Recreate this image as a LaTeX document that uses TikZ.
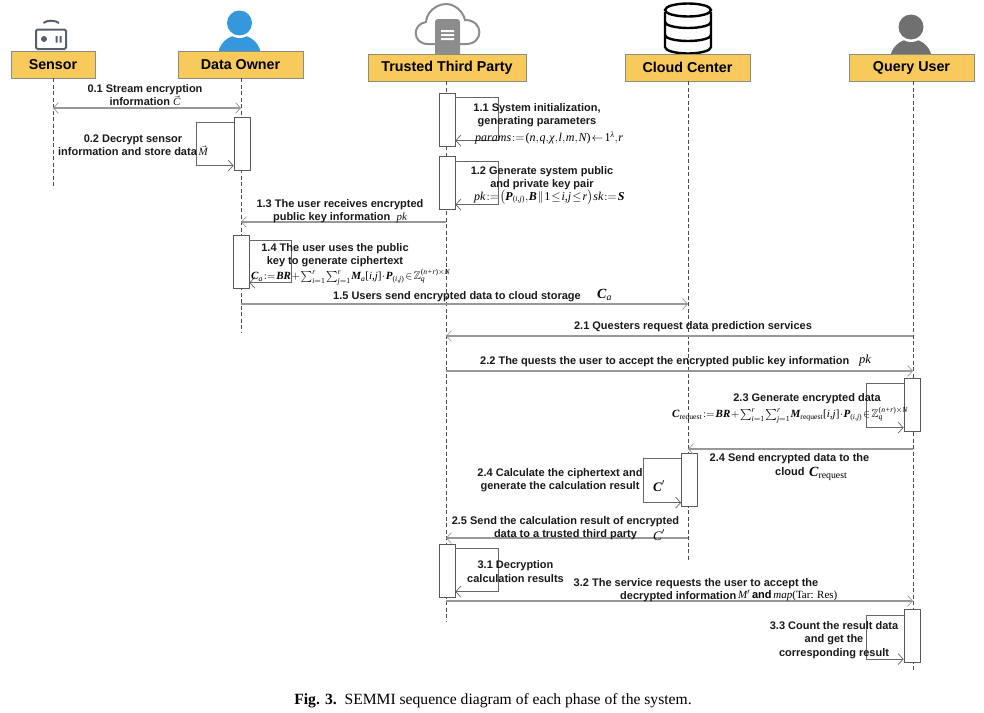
\documentclass[tikz,border=0pt]{standalone}
\usepackage{amsmath,amssymb}
\usepackage{fontspec}
\setmainfont{Liberation Sans}
\newfontfamily\capfont{Liberation Serif}
\usetikzlibrary{arrows.meta}
\definecolor{headfill}{HTML}{F7CA5B}
\definecolor{headline}{HTML}{8E8E80}
\definecolor{msgline}{HTML}{989898}
\definecolor{ownerblue}{HTML}{3598DC}
\definecolor{usergray}{HTML}{707070}
\definecolor{sensorgray}{HTML}{56606E}
\definecolor{cloudgray}{HTML}{8C8C8C}
\newcommand{\sm}{\fontsize{11}{13.4}\selectfont\bfseries}
\newcommand{\ti}[1]{\text{\capfont\mdseries\itshape #1}}
\newcommand{\tb}[1]{\text{\capfont\bfseries\itshape #1}}
\newcommand{\tr}[1]{\text{\capfont\mdseries\upshape #1}}
\newcommand{\tightm}{\thickmuskip=1.5mu\medmuskip=1mu\thinmuskip=1mu}
\begin{document}
\begin{tikzpicture}[x=1pt,y=1pt,
  head/.style={draw=headline,fill=headfill,line width=0.8pt,minimum height=27pt,inner sep=0pt,font=\fontsize{14.3}{16}\selectfont\bfseries},
  lifeline/.style={draw=black!70,line width=0.7pt,dash pattern=on 4pt off 2.5pt},
  actbox/.style={draw=black!65,fill=white,line width=0.8pt,minimum width=16pt,minimum height=53pt,inner sep=0pt},
  msg/.style={draw=msgline,line width=1.1pt,-{Straight Barb[length=5pt,width=11pt,line width=0.7pt]}},
  msgboth/.style={draw=msgline,line width=1.1pt,{Straight Barb[length=5pt,width=11pt,line width=0.7pt]}-{Straight Barb[length=5pt,width=11pt,line width=0.7pt]}},
  selfmsg/.style={draw=black!60,line width=0.8pt,-{Straight Barb[length=5pt,width=11pt,line width=0.7pt]}},
  lbl/.style={align=center,inner sep=0pt,font=\sm,text=black!90}]
\useasboundingbox (0,0) rectangle (984,-712);

% icons
\draw[sensorgray,line width=2pt,rounded corners=1.5pt] (36,-29.5) rectangle (66,-49);
\fill[sensorgray] (44,-39) circle (3);
\fill[sensorgray] (55.5,-36) rectangle (57.5,-42.5) (59.5,-36) rectangle (61.5,-42.5);
\draw[sensorgray,line width=2pt] (43.5,-23) .. controls (47,-20) and (55,-20) .. (59,-23);

\begin{scope}
\clip (200,-51) rectangle (280,0);
\fill[ownerblue] (239.5,-56) ellipse (21.5 and 21);
\end{scope}
\fill[white] (239.5,-23) circle (15);
\fill[ownerblue] (239.5,-23) circle (12.5);

\begin{scope}
\clip (870,-54) rectangle (950,0);
\fill[usergray] (911,-60) ellipse (21 and 21);
\end{scope}
\fill[white] (911,-27) circle (15);
\fill[usergray] (911,-27) circle (12.5);

\draw[black,line width=2.4pt] (665,-12) -- (665,-47) arc[start angle=180,end angle=360,x radius=23,y radius=6.5] -- (711,-12);
\draw[black,line width=2.4pt] (688,-10) ellipse (23 and 6.5);
\draw[black,line width=2.4pt] (665,-22) arc[start angle=180,end angle=360,x radius=23,y radius=6];
\draw[black,line width=2.4pt] (665,-35) arc[start angle=180,end angle=360,x radius=23,y radius=6];

\draw[cloudgray,line width=2pt] (437,-44) -- (428,-44) .. controls (412,-44) and (412,-24) .. (426,-22)
  .. controls (427,-8) and (444,0) .. (454,-6) .. controls (460,-9) and (464,-15) .. (465,-20)
  .. controls (484,-20) and (484,-44) .. (466,-44) -- (458,-44);
\fill[cloudgray,rounded corners=3pt] (435,-19) rectangle (460,-60);
\fill[white] (441,-30) rectangle (454,-32) (441,-34) rectangle (454,-36) (441,-38) rectangle (454,-40);

% lifeline ends
\coordinate (sensorEnd) at (53,-187);
\coordinate (ownerEnd) at (241,-332);
\coordinate (ttpEnd) at (446,-622);
\coordinate (cloudEnd) at (688,-560);
\coordinate (userEnd) at (913,-672);

% heads
\node[head,minimum width=84pt] (sensor) at (53,-64.5) {Sensor};
\node[head,minimum width=125pt] (owner) at (240.5,-64.5) {Data Owner};
\node[head,minimum width=158pt] (ttp) at (447,-67.5) {Trusted Third Party};
\node[head,minimum width=125pt] (cloud) at (687.5,-67.5) {Cloud Center};
\node[head,minimum width=125pt] (user) at (911.5,-67.5) {Query User};

% lifelines
\draw[lifeline] (53,-78) -- (sensorEnd);
\draw[lifeline] (241,-78) -- (ownerEnd);
\draw[lifeline] (446,-81) -- (ttpEnd);
\draw[lifeline] (688,-81) -- (cloudEnd);
\draw[lifeline] (913,-81) -- (userEnd);

% activations
\node[actbox] (aOwnerA) at (242,-143.5) {};
\node[actbox] (aTtpA) at (447,-119.5) {};
\node[actbox] (aTtpB) at (447,-182.5) {};
\node[actbox] (aOwnerB) at (241,-261.5) {};
\node[actbox] (aUserA) at (912,-404.5) {};
\node[actbox] (aCloud) at (689.5,-479.5) {};
\node[actbox] (aTtpC) at (447,-570.5) {};
\node[actbox] (aUserB) at (912,-636) {};

% self messages
\draw[selfmsg] ([yshift=-6]aOwnerA.north west) -- ++(-37,0) -- ++(0,-43) coordinate (c1) -- (c1 -| aOwnerA.west);
\draw[selfmsg] ([yshift=-5]aTtpA.north east) -- ++(43,0) -- ++(0,-43) coordinate (c2) -- (c2 -| aTtpA.east);
\draw[selfmsg] ([yshift=-6]aTtpB.north east) -- ++(43,0) -- ++(0,-43) coordinate (c3) -- (c3 -| aTtpB.east);
\draw[selfmsg] ([yshift=-6]aOwnerB.north east) -- ++(42,0) -- ++(0,-42) coordinate (c4) -- (c4 -| aOwnerB.east);
\draw[selfmsg] ([yshift=-6]aUserA.north west) -- ++(-37,0) -- ++(0,-44) coordinate (c5) -- (c5 -| aUserA.west);
\draw[selfmsg] ([yshift=-6]aCloud.north west) -- ++(-37.5,0) -- ++(0,-44) coordinate (c6) -- (c6 -| aCloud.west);
\draw[selfmsg] ([yshift=-5]aTtpC.north east) -- ++(43,0) -- ++(0,-43) coordinate (c7) -- (c7 -| aTtpC.east);
\draw[selfmsg] ([yshift=-6]aUserB.north west) -- ++(-37,0) -- ++(0,-44) coordinate (c8) -- (c8 -| aUserB.west);

% messages
\coordinate (m01a) at (53,-108); \coordinate (m01b) at (241,-108);
\coordinate (m13a) at (446,-222); \coordinate (m13b) at (241,-222);
\coordinate (m15a) at (241,-304); \coordinate (m15b) at (688,-304);
\coordinate (m21a) at (913,-336); \coordinate (m21b) at (446,-336);
\coordinate (m22a) at (446,-371); \coordinate (m22b) at (913,-371);
\coordinate (m24a) at (913,-449); \coordinate (m24b) at (688,-449);
\coordinate (m25a) at (688,-538); \coordinate (m25b) at (446,-538);
\coordinate (m32a) at (446,-601); \coordinate (m32b) at (913,-601);
\draw[msgboth] (m01a) -- (m01b);
\draw[msg] (m13a) -- (m13b);
\draw[msg] (m15a) -- (m15b);
\draw[msg] (m21a) -- (m21b);
\draw[msg] (m22a) -- (m22b);
\draw[msg] (m24a) -- (m24b);
\draw[msg] (m25a) -- (m25b);
\draw[msg] (m32a) -- (m32b);

% labels
\node[lbl] (t01) at (145,-95) {0.1 Stream encryption\\information $\vec{\ti{C}}$};
\node[lbl] (t02) at (133,-145.5) {0.2 Decrypt sensor\\information and store data$\,\vec{\ti{M}}$};
\node[lbl] (t11) at (537,-115) {1.1 System initialization,\\generating parameters};
\node[inner sep=0pt,anchor=west] (t11m) at (475,-138) {\fontsize{12}{13}\selectfont\tightm $\ti{params}:=\tr{(}\ti{n},\ti{q},\ti{χ},\ti{l},\ti{m},\ti{N}\tr{)}\leftarrow \tr{1}^{\ti{λ}},\ti{r}$};
\node[lbl] (t12) at (542,-178) {1.2 Generate system public\\and private key pair};
\node[inner sep=0pt,anchor=west] (t12m) at (474,-197) {\fontsize{12}{13}\selectfont\tightm $\ti{pk}:=\bigl(\tb{P}_{\tr{(}\ti{i,j}\tr{)}},\tb{B}\,\|\,\tr{1}\le \ti{i,j}\le \ti{r}\bigr)\,\ti{sk}:=\tb{S}$};
\node[lbl] (t13) at (340,-211) {1.3 The user receives encrypted\\public key information\ \ $\ti{pk}$};
\node[lbl] (t14) at (335,-255) {1.4 The user uses the public\\key to generate ciphertext};
\node[inner sep=0pt,anchor=west] (t14m) at (251,-277) {\fontsize{11}{13}\selectfont\tightm $\tb{C}_{\ti{a}}:=\tb{BR}+\sum_{\ti{i}=\tr{1}}^{\ti{r}}\sum_{\ti{j}=\tr{1}}^{\ti{r}}\tb{M}_{\ti{a}}\tr{[}\ti{i,j}\tr{]}\cdot\tb{P}_{\tr{(}\ti{i,j}\tr{)}}\in\mathbb{Z}_{\ti{q}}^{\tr{(}\ti{n+r}\tr{)}\times \ti{N}}$};
\node[lbl,anchor=west] (t15) at (333,-296.5) {1.5 Users send encrypted data to cloud storage};
\node[inner sep=0pt,anchor=west] (t15m) at (597,-295) {\fontsize{14}{15}\selectfont $\tb{C}_{\ti{a}}$};
\node[lbl] (t21) at (693,-326.5) {2.1 Questers request data prediction services};
\node[lbl,anchor=west] (t22) at (480,-361.5) {2.2 The quests the user to accept the encrypted public key information};
\node[inner sep=0pt,anchor=west] (t22m) at (859,-360.5) {\fontsize{12.5}{13}\selectfont $\ti{pk}$};
\node[lbl] (t23) at (807,-399) {2.3 Generate encrypted data};
\node[inner sep=0pt,anchor=west] (t23m) at (672,-415) {\fontsize{11}{13}\selectfont\tightm $\tb{C}_{\tr{request}}:=\tb{BR}+\sum_{\ti{i}=\tr{1}}^{\ti{r}}\sum_{\ti{j}=\tr{1}}^{\ti{r}}\tb{M}_{\tr{request}}\tr{[}\ti{i,j}\tr{]}\cdot\tb{P}_{\tr{(}\ti{i,j}\tr{)}}\in\mathbb{Z}_{\ti{q}}^{\tr{(}\ti{n+r}\tr{)}\times \ti{N}}$};
\node[lbl] (t24a) at (789.5,-459) {2.4 Send encrypted data to the};
\node[lbl,anchor=west] (t24b) at (775,-472) {cloud};
\node[inner sep=0pt,anchor=west] (t24m) at (809,-474) {\fontsize{14}{15}\selectfont $\tb{C}_{\tr{request}}$};
\node[lbl] (t24c) at (560,-480) {2.4 Calculate the ciphertext and\\generate the calculation result};
\node[inner sep=0pt] (t24d) at (659,-486) {\fontsize{13}{14}\selectfont $\tb{C}'$};
\node[lbl] (t25) at (565.5,-528) {2.5 Send the calculation result of encrypted\\data to a trusted third party};
\node[inner sep=0pt] (t25m) at (659,-535) {\fontsize{13}{14}\selectfont $\ti{C}'$};
\node[lbl] (t31) at (515.5,-571.5) {3.1 Decryption\\calculation results};
\node[lbl] (t32a) at (696,-583.5) {3.2 The service requests the user to accept the};
\node[lbl,anchor=west] (t32b) at (620,-596.5) {decrypted information};
\node[inner sep=0pt,anchor=west] (t32m) at (738,-595.5) {\fontsize{11}{13}\selectfont $\ti{M}'$\,\textbf{and}\,{\capfont\itshape map}{\capfont(Tar: Res)}};
\node[lbl] (t33) at (834,-640) {3.3 Count the result data\\and get the\\corresponding result};

% caption
\node[inner sep=0pt] (caption) at (493,-701) {\capfont\fontsize{15.6}{16}\selectfont\textbf{Fig. 3.}\ \ SEMMI sequence diagram of each phase of the system.};
\end{tikzpicture}
\end{document}
